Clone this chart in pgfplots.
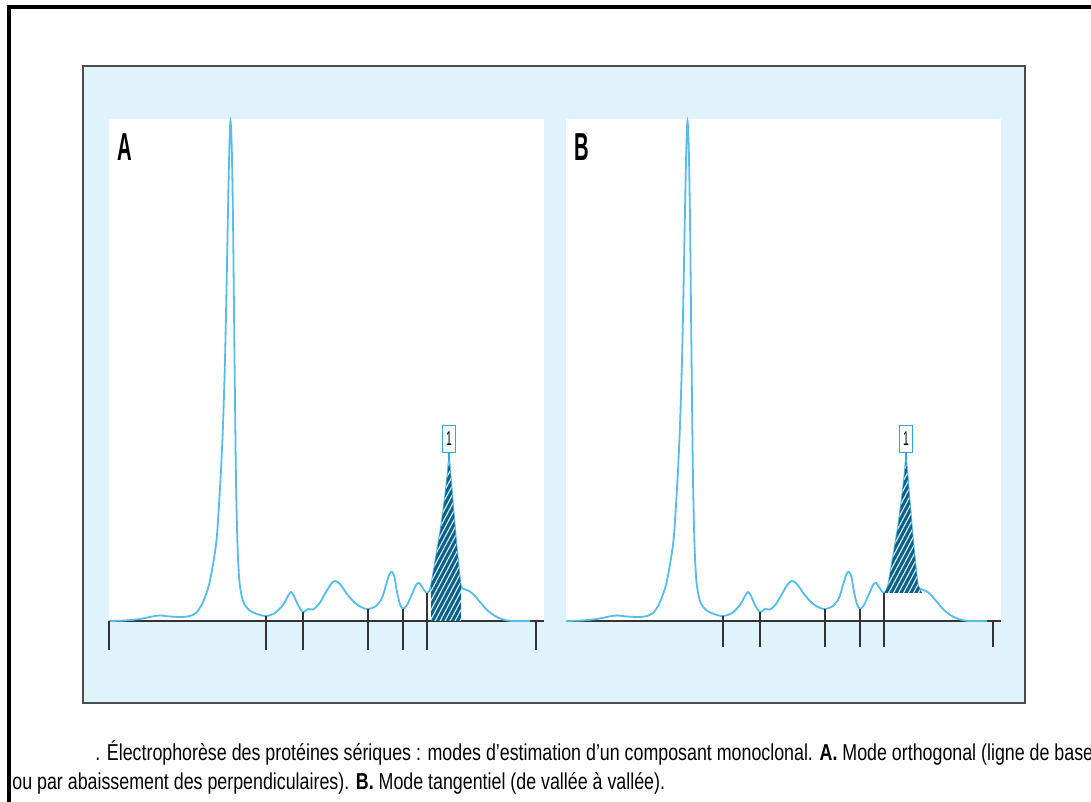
\documentclass[border=0pt]{standalone}
\usepackage{fontspec}
\setmainfont{Liberation Sans}
\newfontfamily\capfont{Liberation Sans}[FakeStretch=0.775]
\newfontfamily\panelfont{Liberation Sans}[FakeStretch=0.52]
\usepackage{pgfplots}
\usepackage{pgfplotstable}
\pgfplotsset{compat=1.18}
\usetikzlibrary{patterns.meta}

\definecolor{panelblue}{RGB}{224,242,252}
\definecolor{traceblue}{RGB}{85,188,236}
\definecolor{hatchblue}{RGB}{12,96,136}
\definecolor{boxblue}{RGB}{40,170,225}

% densitometric trace: x = migration (px from the left end), h = height above baseline
\pgfplotstableread{
x h
0 0
16 0.5
31 2
43 4.5
51 5.5
61 4.5
73 4
81 5
87 8
92 15
96 24
100 36
103 51
106 69
108 86
110 116
112 151
114 196
116 261
117.5 331
119 411
120.3 471
121.5 500
122.8 471
124 401
125 311
126 221
127 141
128.5 76
130.5 39
134 20
140 11
148 7
157 5
166 8
174 16
179 25
182 29
185 25
189 16
194 9
199 12
204 11.5
210 17
217 29
222 37
226 40
231 37
238 27
246 18
253 13.5
259 12
267 15
273 23
277 36
280.5 47
283 49
285.5 44
288 29
291 17
294 12
298 16
303 27
307 36
310 38
313 34
318 28
322 35
327 64
332 94
336 124
338.5 146
340 161
341.5 146
344 116
347 81
350 51
352 35
355 32
360 30
365 26
371 19
378 11
386 5
394 1.5
403 0
421 0
}\trace

% monoclonal component, orthogonal mode (down to the baseline)
\pgfplotstableread{
x h
322 0
322 35
327 64
332 94
336 124
338.5 146
340 161
341.5 146
344 116
347 81
350 51
352 35
352 0
}\mcortho

% monoclonal component, tangential mode (valley to valley)
\pgfplotstableread{
x h
318 28
322 35
327 64
332 94
336 124
338.5 146
340 161
341.5 146
344 116
347 81
350 51
352 35
354 32
356 28
}\mctang

\pgfplotsset{
  panel/.style={
    scale only axis, width=217.5bp, height=251bp,
    xmin=0, xmax=435, ymin=0, ymax=502,
    hide axis, clip=false, anchor=south west,
  },
  trace/.style={traceblue, line width=0.9bp, smooth, no markers},
  base/.style={black!80, line width=0.75bp, no markers},
  perp/.style={black!80, line width=0.55bp, no markers},
  hatchfill/.style={fill=hatchblue, draw=none, no markers},
  hatchlines/.style={draw=none, no markers, pattern={Lines[angle=62,distance=2.2bp,line width=0.55bp]}, pattern color=white!80!traceblue},
}
\tikzset{
  peakbox/.style={draw=boxblue, fill=white, line width=0.6bp, anchor=south,
    minimum width=6.5bp, minimum height=13.5bp, inner sep=0pt,
    font=\panelfont\fontsize{10bp}{10bp}\selectfont},
}

\begin{document}
\begin{tikzpicture}
\begin{scope}[x=0.5bp,y=0.5bp]
  \draw[line width=2bp] (9,-10) -- (9,795) -- (1100,795);
  \draw[fill=panelblue, draw=black!70, line width=1bp] (83,99) rectangle (1025,736);
  \fill[white] (109,181) rectangle (544,683);
  \fill[white] (566,181) rectangle (1001,683);
  \node[anchor=base west, inner sep=0pt, font=\panelfont\bfseries\fontsize{19.5bp}{20bp}\selectfont] at (117,642) {A};
  \node[anchor=base west, inner sep=0pt, font=\panelfont\bfseries\fontsize{19.5bp}{20bp}\selectfont] at (574,642) {B};
  \node[anchor=base west, inner sep=0pt, font=\capfont\fontsize{11.5bp}{12bp}\selectfont] at (95,42)
    {. Électrophorèse des protéines sériques : modes d’estimation d’un composant monoclonal. \textbf{A.} Mode orthogonal (ligne de base};
  \node[anchor=base west, inner sep=0pt, font=\capfont\fontsize{11.5bp}{12bp}\selectfont] at (12,13)
    {ou par abaissement des perpendiculaires). \textbf{B.} Mode tangentiel (de vallée à vallée).};
\end{scope}

% A: orthogonal mode
\begin{axis}[panel, at={(54.5bp,90.5bp)}]
  \addplot[base] coordinates {(0,0) (435,0)};
  \addplot[trace] table {\trace};
  \addplot[hatchfill] table {\mcortho} \closedcycle;
  \addplot[hatchlines] table {\mcortho} \closedcycle;
  \addplot[perp] coordinates {(0,0) (0,-29)};
  \addplot[perp] coordinates {(157,5) (157,-29)};
  \addplot[perp] coordinates {(194,9) (194,-29)};
  \addplot[perp] coordinates {(259,12) (259,-29)};
  \addplot[perp] coordinates {(294,12) (294,-29)};
  \addplot[perp] coordinates {(318,28) (318,-29)};
  \addplot[perp] coordinates {(427,0) (427,-29)};
  \draw[boxblue, line width=0.6bp] (axis cs:340,161) -- (axis cs:340,168);
  \node[peakbox] at (axis cs:340,168) {1};
\end{axis}

% B: tangential mode
\begin{axis}[panel, at={(283bp,90.5bp)}]
  \addplot[base] coordinates {(0,0) (435,0)};
  \addplot[trace] table {\trace};
  \addplot[hatchfill] table {\mctang} -- cycle;
  \addplot[hatchlines] table {\mctang} -- cycle;
  \addplot[perp] coordinates {(157,5) (157,-26)};
  \addplot[perp] coordinates {(194,9) (194,-26)};
  \addplot[perp] coordinates {(259,12) (259,-26)};
  \addplot[perp] coordinates {(294,12) (294,-26)};
  \addplot[perp] coordinates {(318,28) (318,-26)};
  \addplot[perp] coordinates {(427,0) (427,-26)};
  \draw[boxblue, line width=0.6bp] (axis cs:340,161) -- (axis cs:340,168);
  \node[peakbox] at (axis cs:340,168) {1};
\end{axis}
\pgfresetboundingbox
\path[use as bounding box] (0,0) rectangle (545.5bp,401bp);
\end{tikzpicture}
\end{document}
